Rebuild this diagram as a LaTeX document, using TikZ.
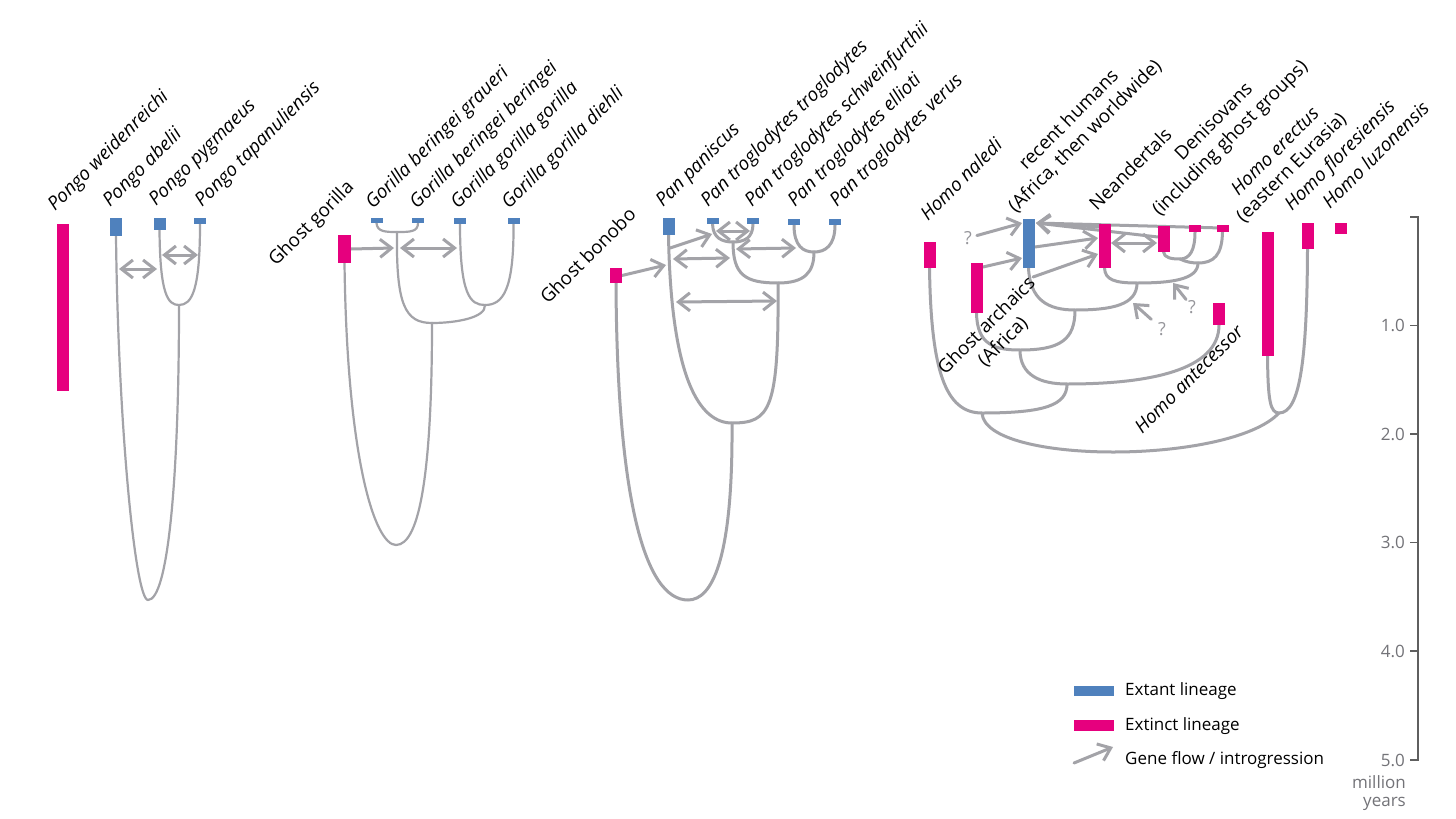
\documentclass[tikz,border=0pt]{standalone}
\usepackage{fontspec}
\setmainfont{Open Sans}
\usetikzlibrary{arrows.meta,backgrounds}
\definecolor{pinkbar}{RGB}{230,0,126}
\definecolor{bluebar}{RGB}{79,129,189}
\definecolor{treegray}{RGB}{163,163,168}
\definecolor{axisgray}{RGB}{95,95,95}
\definecolor{labgray}{RGB}{115,115,120}
\definecolor{qgray}{RGB}{150,150,155}
\tikzset{
  barb/.tip={Straight Barb[length=11.5pt,width=18pt]},
  tree/.style={draw=treegray, line width=3pt, line cap=round, line join=round},
  thintree/.style={tree, line width=2.2pt},
  gf/.style={draw=treegray, line width=3pt, line cap=round, -barb},
  gfd/.style={draw=treegray, line width=3pt, line cap=round, barb-barb},
  bar/.style={rectangle, inner sep=0pt, outer sep=0pt, minimum width=12pt, anchor=north},
  ext/.style={bar, fill=pinkbar},
  alive/.style={bar, fill=bluebar},
  lbl/.style={rotate=45, anchor=base west, inner sep=0pt, font=\fontsize{18.8}{23}\selectfont},
  lbltwo/.style={rotate=45, anchor=south west, inner sep=0pt, align=center, font=\fontsize{18.8}{23}\selectfont},
  lblc/.style={rotate=45, anchor=center, inner sep=0pt, align=center, font=\fontsize{18.8}{23}\selectfont},
  qm/.style={text=qgray, font=\fontsize{18}{20}\selectfont, inner sep=0pt},
  axl/.style={text=labgray, anchor=east, inner sep=0pt, font=\fontsize{17}{20}\selectfont},
  legt/.style={anchor=base west, inner sep=0pt, font=\fontsize{17}{20}\selectfont},
  axisline/.style={draw=axisgray, line width=1.3pt}
}
\begin{document}
\begin{tikzpicture}[x=1pt,y=-1pt]
\useasboundingbox (0,0) rectangle (1456,819);

% ---------------- Pongo ----------------
\node[ext, minimum height=167pt] (oWe) at (63,224) {};
\node[alive, minimum height=18pt] (oAb) at (116,218) {};
\node[alive, minimum height=12pt] (oPy) at (159.5,218) {};
\node[alive, minimum height=6pt] (oTa) at (200,218) {};
\node[lbl] (loWe) at (55,212) {\textit{Pongo weidenreichi}};
\node[lbl] (loAb) at (110,208) {\textit{Pongo abelii}};
\node[lbl] (loPy) at (156,207) {\textit{Pongo pygmaeus}};
\node[lbl] (loTa) at (202,208) {\textit{Pongo tapanuliensis}};

% ---------------- Gorilla ----------------
\node[ext, minimum width=13pt, minimum height=28pt] (gGh) at (344.5,235) {};
\node[alive, minimum height=5pt] (gGr) at (376.5,218) {};
\node[alive, minimum height=5pt] (gBe) at (418,218) {};
\node[alive, minimum height=6pt] (gGo) at (460,218) {};
\node[alive, minimum height=6pt] (gDi) at (513.5,218) {};
\node[lbl] (lgGh) at (276,267) {Ghost gorilla};
\node[lbl] (lgGr) at (373,210) {\textit{Gorilla beringei graueri}};
\node[lbl] (lgBe) at (417,210) {\textit{Gorilla beringei beringei}};
\node[lbl] (lgGo) at (458,210) {\textit{Gorilla gorilla gorilla}};
\node[lbl] (lgDi) at (509,210) {\textit{Gorilla gorilla diehli}};

% ---------------- Pan ----------------
\node[ext, minimum height=15pt] (nGb) at (616,268) {};
\node[alive, minimum height=17pt] (nPa) at (668.5,218) {};
\node[alive, minimum height=6pt] (nTr) at (712.5,218) {};
\node[alive, minimum height=6pt] (nSc) at (753,218) {};
\node[alive, minimum height=6pt] (nEl) at (794,219) {};
\node[alive, minimum height=6pt] (nVe) at (835,219) {};
\node[lbl] (lnGb) at (548,305) {Ghost bonobo};
\node[lbl] (lnPa) at (663,208) {\textit{Pan paniscus}};
\node[lbl] (lnTr) at (708,208) {\textit{Pan troglodytes troglodytes}};
\node[lbl] (lnSc) at (752,208) {\textit{Pan troglodytes schweinfurthii}};
\node[lbl] (lnEl) at (795,208) {\textit{Pan troglodytes ellioti}};
\node[lbl] (lnVe) at (837,208) {\textit{Pan troglodytes verus}};

% ---------------- Homo ----------------
\node[ext, minimum height=26pt] (hNa) at (929.5,242) {};
\node[ext, minimum height=50pt] (hGa) at (976.5,263) {};
\node[alive, minimum height=49pt] (hRh) at (1028.5,219) {};
\node[ext, minimum height=44pt] (hNe) at (1104.5,224) {};
\node[ext, minimum height=26pt] (hDe) at (1163.5,226) {};
\node[ext, minimum height=7pt] (hGa1) at (1195,225) {};
\node[ext, minimum height=7pt] (hGa2) at (1222.5,225) {};
\node[ext, minimum height=124pt] (hEr) at (1267.5,232) {};
\node[ext, minimum height=26pt] (hFl) at (1307.5,223) {};
\node[ext, minimum height=11pt] (hLu) at (1341,223) {};
\node[ext, minimum height=22pt] (hAn) at (1219,303) {};
\node[lbl] (lhNa) at (928,222) {\textit{Homo naledi}};
\node[lbltwo] (lhRh) at (1018,216) {recent humans\\(Africa, then worldwide)};
\node[lbl] (lhNe) at (1097,212) {Neandertals};
\node[lbltwo] (lhDe) at (1163,220) {Denisovans\\(including ghost groups)};
\node[lbltwo] (lhEr) at (1246,226) {\textit{Homo erectus}\\(eastern Eurasia)};
\node[lbl] (lhFl) at (1292,212) {\textit{Homo floresiensis}};
\node[lbl] (lhLu) at (1330,210) {\textit{Homo luzonensis}};
\node[lblc] (lhGa) at (995,334) {Ghost archaics\\(Africa)};
\node[lblc] (lhAn) at (1189,379) {\textit{Homo antecessor}};
\node[qm] (hq1) at (968,238) {?};
\node[qm] (hq2) at (1162,329) {?};
\node[qm] (hq3) at (1192,307) {?};

% ---------------- lines (behind bars) ----------------
\begin{scope}[on background layer]
\fill[white] (0,0) rectangle (1456,819);
% Pongo
\coordinate (oJ) at (179,305);
\coordinate (oR) at (148,600);
\draw[thintree] (oAb.south) .. controls (118,420) and (135,600) .. (oR) .. controls (168,600) and (179,480) .. (oJ);
\draw[thintree] (oPy.south) .. controls (160,295) and (168,305) .. (oJ) .. controls (192,305) and (200,290) .. (oTa.south);
\coordinate (oA1) at (119,269); \coordinate (oA2) at (157,269);
\coordinate (oA3) at (162,255); \coordinate (oA4) at (198,255);
\draw[gfd] (oA1) -- (oA2);
\draw[gfd] (oA3) -- (oA4);

% Gorilla
\coordinate (gB) at (397,232);
\coordinate (gG) at (485,305);
\coordinate (gJ) at (432,323);
\coordinate (gR) at (396,545);
\draw[thintree] (gGr.south) .. controls (377,232) and (386,232) .. (gB) .. controls (410,232) and (418,232) .. (gBe.south);
\draw[thintree] (gB) .. controls (396,305) and (405,323) .. (gJ);
\draw[thintree] (gGo.south) .. controls (460,295) and (470,305) .. (gG) .. controls (503,305) and (514,290) .. (gDi.south);
\draw[thintree] (gG) .. controls (486,318) and (455,323) .. (gJ);
\draw[thintree] (gJ) .. controls (432,470) and (420,545) .. (gR) .. controls (375,545) and (347,460) .. (gGh.south);
\coordinate (gA1) at (394,248);
\coordinate (gA2) at (400,248); \coordinate (gA3) at (457,248);
\draw[gf] (gGh.east) -- (gA1);
\draw[gfd] (gA2) -- (gA3);

% Pan
\coordinate (nT1) at (733,242);
\coordinate (nT2) at (814,252);
\coordinate (nT3) at (778,283);
\coordinate (nJ) at (732,423);
\coordinate (nR) at (688,600);
\draw[tree] (nTr.south) .. controls (713,238) and (722,242) .. (nT1) .. controls (744,242) and (753,238) .. (nSc.south);
\draw[tree] (nEl.south) .. controls (794,246) and (803,252) .. (nT2) .. controls (825,252) and (835,246) .. (nVe.south);
\draw[tree] (nT1) .. controls (733,275) and (745,283) .. (nT3) .. controls (805,283) and (814,272) .. (nT2);
\draw[tree] (nPa.south) .. controls (671,380) and (700,423) .. (nJ) .. controls (770,423) and (779,410) .. (nT3);
\draw[tree] (nJ) .. controls (733,560) and (712,600) .. (nR) .. controls (645,600) and (617,500) .. (nGb.south);
\coordinate (nA1) at (666,265);
\coordinate (nA2) at (670,248); \coordinate (nA3) at (712,234);
\coordinate (nA4) at (716,231); \coordinate (nA5) at (750,231);
\coordinate (nA6) at (673,259); \coordinate (nA7) at (730,258);
\coordinate (nA8) at (736,249); \coordinate (nA9) at (796,248);
\coordinate (nA10) at (676,302); \coordinate (nA11) at (777,301);
\draw[gf] (nGb.east) -- (nA1);
\draw[gf] (nA2) -- (nA3);
\draw[gfd] (nA4) -- (nA5);
\draw[gfd] (nA6) -- (nA7);
\draw[gfd] (nA8) -- (nA9);
\draw[gfd] (nA10) -- (nA11);

% Homo
\coordinate (hD1) at (1180,259);
\coordinate (hD2) at (1198,263);
\coordinate (hND) at (1137,283);
\coordinate (hMo) at (1075,310);
\coordinate (hGJ) at (1020,350);
\coordinate (hAJ) at (1067,384);
\coordinate (hNJ) at (982,413);
\coordinate (hEF) at (1279,413);
\draw[tree] (hDe.south) .. controls (1164,258) and (1172,259) .. (hD1) .. controls (1190,259) and (1195,250) .. (hGa1.south);
\draw[tree] (hD1) .. controls (1186,262) and (1192,263) .. (hD2) .. controls (1214,263) and (1222,255) .. (hGa2.south);
\draw[tree] (hNe.south) .. controls (1105,280) and (1115,283) .. (hND) .. controls (1170,283) and (1198,280) .. (hD2);
\draw[tree] (hRh.south) .. controls (1030,300) and (1048,310) .. (hMo) .. controls (1112,310) and (1137,305) .. (hND);
\draw[tree] (hGa.south) .. controls (977,345) and (995,350) .. (hGJ) .. controls (1060,350) and (1075,340) .. (hMo);
\draw[tree] (hGJ) .. controls (1020,375) and (1040,384) .. (hAJ) .. controls (1150,384) and (1219,370) .. (hAn.south);
\draw[tree] (hNa.south) .. controls (931,370) and (945,413) .. (hNJ) .. controls (1045,413) and (1067,405) .. (hAJ);
\draw[tree] (hNJ) .. controls (985,465) and (1230,465) .. (hEF);
\draw[tree] (hEr.south) .. controls (1268,400) and (1270,413) .. (hEF) .. controls (1300,413) and (1307,360) .. (hFl.south);
\coordinate (hA1) at (1022,223);
\coordinate (hB2) at (983,267); \coordinate (hA2) at (1022,258);
\coordinate (hA3) at (1036,223);
\coordinate (hB3) at (1099,227);
\coordinate (hB4) at (1158,237);
\coordinate (hB5) at (1222,228);
\coordinate (hB6) at (1035,247); \coordinate (hA6) at (1098,238);
\coordinate (hB7) at (1033,277); \coordinate (hA7) at (1098,254);
\coordinate (hA8) at (1111,243); \coordinate (hA9) at (1157,243);
\coordinate (hA10) at (1133,303);
\coordinate (hA11) at (1173,283);
\draw[gf, shorten <=5pt] (hq1) -- (hA1);
\draw[gf] (hB2) -- (hA2);
\draw[gf] (hB5) -- (hA3);
\draw[gf] (hB4) -- (hA3);
\draw[gf] (hB3) -- (hA3);
\draw[gf] (hB6) -- (hA6);
\draw[gf] (hB7) -- (hA7);
\draw[gfd] (hA8) -- (hA9);
\draw[gf, shorten <=9pt] (hq2) -- (hA10);
\draw[gf, shorten <=3pt] (hq3) -- (hA11);
\end{scope}

% ---------------- time axis ----------------
\draw[axisline] (1410,217) -- (1418,217) -- (1418,760) -- (1410,760);
\foreach \yy in {325.5,434,542.5,651} \draw[axisline] (1410,\yy) -- (1418,\yy);
\node[axl] (ax1) at (1405,325.5) {1.0};
\node[axl] (ax2) at (1405,434) {2.0};
\node[axl] (ax3) at (1405,542.5) {3.0};
\node[axl] (ax4) at (1405,651) {4.0};
\node[axl] (ax5) at (1405,760) {5.0};
\node[axl] (axm) at (1406,782) {million};
\node[axl] (axy) at (1406,804) {years};

% ---------------- legend ----------------
\node[alive, anchor=center, minimum width=40pt, minimum height=10pt] (lgA) at (1094,691) {};
\node[ext, anchor=center, minimum width=40pt, minimum height=11pt] (lgE) at (1094,725.5) {};
\coordinate (lgF1) at (1074,763);
\coordinate (lgF2) at (1113,747);
\draw[gf] (lgF1) -- (lgF2);
\node[legt] (lgtA) at (1125,695) {Extant lineage};
\node[legt] (lgtE) at (1125,730) {Extinct lineage};
\node[legt] (lgtF) at (1125,764) {Gene flow / introgression};
\end{tikzpicture}
\end{document}
